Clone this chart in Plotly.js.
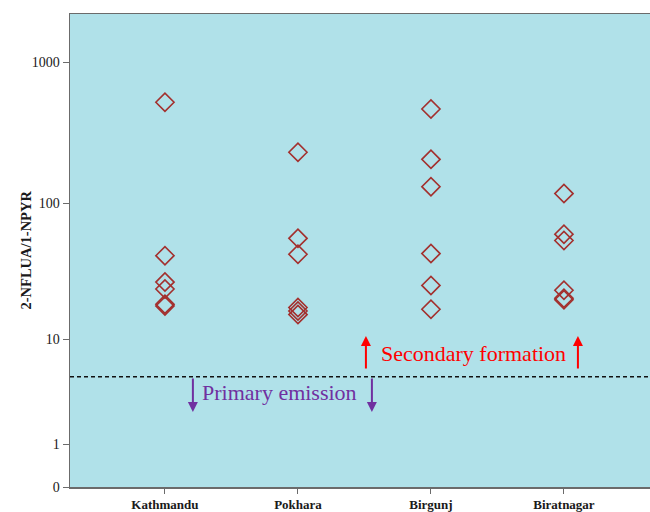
<!DOCTYPE html>
<html>
<head>
<meta charset="utf-8">
<script src="https://cdn.plot.ly/plotly-3.0.1.min.js"></script>
<style>
  html, body { margin: 0; padding: 0; background: #fff; }
  #chart { width: 650px; height: 512px; }
</style>
</head>
<body>
<div id="chart"></div>
<script>
// Sampling sites along the x axis
const sites = ['Kathmandu', 'Pokhara', 'Birgunj', 'Biratnagar'];

// 2-NFLUA/1-NPYR ratios per site
const kathmandu = [520, 42, 27, 24, 18.5, 18];
const pokhara = [230, 56, 43, 17.5, 16.5, 15.5];
const birgunj = [466, 205, 131, 43.5, 25.5, 17];
const biratnagar = [117, 60, 54, 23.5, 20.5, 20];

// Ratio separating primary emission from secondary formation
const threshold = 5;

// Y tick values shown on the axis
const yTicks = [0, 1, 10, 100, 1000];

// The axis uses a log10(v + 1) transform so that zero can be shown
const tf = v => Math.log10(v + 1);

const groups = [kathmandu, pokhara, birgunj, biratnagar];
const xs = [], ys = [];
groups.forEach((vals, i) => {
  vals.forEach(v => { xs.push(sites[i]); ys.push(tf(v)); });
});

const serif = 'Liberation Serif, Times New Roman, serif';
const red = '#ff0000';
const purple = '#7030a0';
const yT = tf(threshold);

const trace = {
  type: 'scatter',
  mode: 'markers',
  x: xs,
  y: ys,
  marker: {
    symbol: 'diamond-open',
    size: 14,
    color: '#a3302e',
    line: { width: 1.6, color: '#a3302e' }
  },
  hoverinfo: 'skip'
};

// Arrow helper: head at (x, y) in data units, tail offset in pixels
function arrow(x, y, ay, color) {
  return {
    x: x, y: y, xref: 'x', yref: 'y',
    ax: 0, ay: ay, axref: 'pixel', ayref: 'pixel',
    showarrow: true, arrowhead: 2, arrowsize: 1, arrowwidth: 2,
    arrowcolor: color, text: ''
  };
}

const layout = {
  width: 650,
  height: 512,
  margin: { l: 70, r: 0, t: 14, b: 25 },
  paper_bgcolor: '#ffffff',
  plot_bgcolor: '#b0e1e9',
  showlegend: false,
  xaxis: {
    type: 'category',
    categoryarray: sites,
    range: [-0.714, 3.647],
    showgrid: false,
    zeroline: false,
    showline: true,
    linecolor: '#6b6b6b',
    linewidth: 1.5,
    mirror: true,
    ticks: 'outside',
    ticklen: 5,
    tickcolor: '#6b6b6b',
    tickfont: { family: serif, size: 13, color: '#1a1a1a', weight: 'bold' }
  },
  yaxis: {
    range: [0, 3.34],
    tickmode: 'array',
    tickvals: yTicks.map(tf),
    ticktext: yTicks.map(String),
    showgrid: false,
    zeroline: false,
    showline: true,
    linecolor: '#6b6b6b',
    linewidth: 1.5,
    mirror: true,
    ticks: 'outside',
    ticklen: 6,
    tickcolor: '#6b6b6b',
    tickfont: { family: serif, size: 14, color: '#1a1a1a' }
  },
  shapes: [{
    type: 'line', xref: 'paper', yref: 'y',
    x0: 0, x1: 1, y0: yT, y1: yT,
    line: { color: '#111', width: 1.5, dash: '4px,3px' }
  }],
  annotations: [
    // Y axis title
    {
      x: 0, y: 0.5, xref: 'paper', yref: 'paper', xanchor: 'center', yanchor: 'middle',
      xshift: -45, textangle: -90, showarrow: false,
      text: '<b>2-NFLUA/1-NPYR</b>',
      font: { family: serif, size: 14.5, color: '#1a1a1a' }
    },
    arrow(1.511, 1.066, 34, red),
    arrow(3.105, 1.066, 34, red),
    arrow(0.21, 0.53, -35, purple),
    arrow(1.556, 0.53, -35, purple),
    {
      x: 1.609, y: 0.946, xref: 'x', yref: 'y', xanchor: 'left', yanchor: 'middle',
      showarrow: false, text: 'Secondary formation',
      font: { family: serif, size: 22, color: red }
    },
    {
      x: 0.263, y: 0.664, xref: 'x', yref: 'y', xanchor: 'left', yanchor: 'middle',
      showarrow: false, text: 'Primary emission',
      font: { family: serif, size: 22, color: purple }
    }
  ]
};

Plotly.newPlot('chart', [trace], layout, { displayModeBar: false, staticPlot: true });
</script>
</body>
</html>
